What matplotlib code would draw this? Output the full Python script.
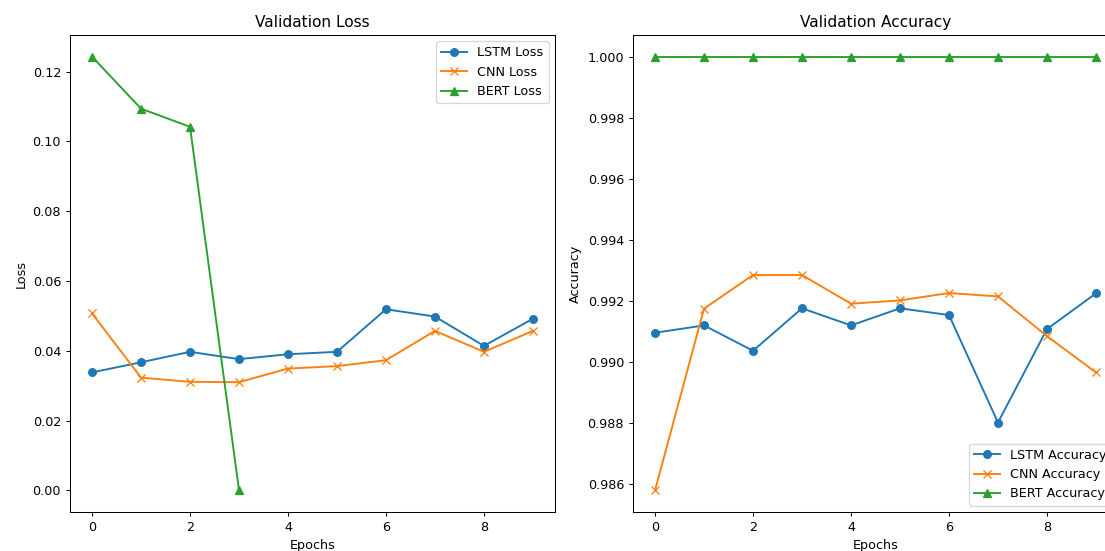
import numpy as np
import matplotlib
matplotlib.use('Agg')
import matplotlib.pyplot as plt

epochs = np.arange(10)
bert_epochs = np.arange(4)

lstm_loss = [0.0338, 0.0367, 0.0397, 0.0376, 0.0390, 0.0397, 0.0519, 0.0498, 0.0414, 0.0492]
cnn_loss = [0.0507, 0.0323, 0.0311, 0.0310, 0.0349, 0.0356, 0.0373, 0.0457, 0.0397, 0.0457]
bert_loss = [0.1243, 0.1094, 0.1042, 0.0000]

lstm_acc = [0.99096, 0.99120, 0.99037, 0.99176, 0.99120, 0.99176, 0.99154, 0.98802, 0.99108, 0.99225]
cnn_acc = [0.98580, 0.99175, 0.99285, 0.99285, 0.99191, 0.99202, 0.99226, 0.99215, 0.99085, 0.98966]
bert_acc = [1.0] * 10

# reference looks like a 12x6 figure shown at ~0.92 scale, so draw at 92 dpi
W, H = 1105, 551
DPI = 92
fig = plt.figure(figsize=(W / DPI, H / DPI), dpi=DPI)

# axes placed in pixels; the right one runs off the edge like the reference
ax1 = fig.add_axes([70 / W, (H - 512) / H, 485 / W, 477 / H])
ax2 = fig.add_axes([633 / W, (H - 512) / H, 485 / W, 477 / H])

# Loss
ax1.plot(epochs, lstm_loss, marker='o', label='LSTM Loss')
ax1.plot(epochs, cnn_loss, marker='x', label='CNN Loss')
ax1.plot(bert_epochs, bert_loss, marker='^', label='BERT Loss')
ax1.set_title('Validation Loss')
ax1.set_xlabel('Epochs')
ax1.set_ylabel('Loss')
ax1.legend(loc='upper right')

# Accuracy
ax2.plot(epochs, lstm_acc, marker='o', label='LSTM Accuracy')
ax2.plot(epochs, cnn_acc, marker='x', label='CNN Accuracy')
ax2.plot(epochs, bert_acc, marker='^', label='BERT Accuracy')
ax2.set_title('Validation Accuracy')
ax2.set_xlabel('Epochs')
ax2.set_ylabel('Accuracy')
ax2.legend(loc='lower right')

fig.savefig('out.png', dpi=DPI)
